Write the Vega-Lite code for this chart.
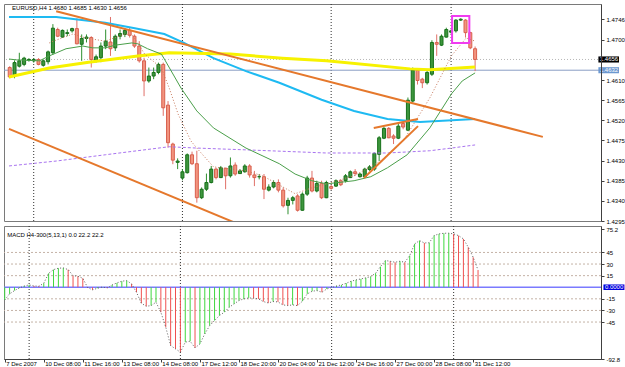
{
"$schema": "https://vega.github.io/schema/vega-lite/v6.json",
"padding": {"left": 2, "top": 3, "right": 0, "bottom": 0},
"background": "white",
"spacing": 0,
"config": {
  "font": "Liberation Sans",
  "view": {"stroke": "#7a7a7a", "strokeWidth": 1},
  "axis": {"labelFont": "Liberation Sans", "labelFontSize": 6, "labelColor": "#000000", "tickColor": "#404040", "domainColor": "#404040", "tickSize": 3, "grid": false}
},
"datasets": {
  "candles": [
    {"i":0,"o":1.4638,"h":1.4641,"l":1.4614,"c":1.4617},
    {"i":1,"o":1.4619,"h":1.4654,"l":1.4614,"c":1.4649},
    {"i":2,"o":1.4641,"h":1.4671,"l":1.4638,"c":1.4653},
    {"i":3,"o":1.4645,"h":1.4662,"l":1.4641,"c":1.4659},
    {"i":4,"o":1.4654,"h":1.4659,"l":1.4651,"c":1.4656},
    {"i":5,"o":1.4653,"h":1.4659,"l":1.4649,"c":1.4656},
    {"i":6,"o":1.4656,"h":1.4659,"l":1.4643,"c":1.4645},
    {"i":7,"o":1.4643,"h":1.4656,"l":1.4640,"c":1.4653},
    {"i":8,"o":1.4651,"h":1.4676,"l":1.4645,"c":1.4673},
    {"i":9,"o":1.4671,"h":1.4735,"l":1.4667,"c":1.4726},
    {"i":10,"o":1.4723,"h":1.4727,"l":1.4706,"c":1.4708},
    {"i":11,"o":1.4706,"h":1.4723,"l":1.4705,"c":1.4721},
    {"i":12,"o":1.4714,"h":1.4723,"l":1.4708,"c":1.4716},
    {"i":13,"o":1.4720,"h":1.4727,"l":1.4716,"c":1.4725},
    {"i":14,"o":1.4725,"h":1.4748,"l":1.4690,"c":1.4691},
    {"i":15,"o":1.4690,"h":1.4712,"l":1.4653,"c":1.4703},
    {"i":16,"o":1.4703,"h":1.4712,"l":1.4694,"c":1.4706},
    {"i":17,"o":1.4705,"h":1.4708,"l":1.4638,"c":1.4656},
    {"i":18,"o":1.4654,"h":1.4667,"l":1.4649,"c":1.4662},
    {"i":19,"o":1.4660,"h":1.4694,"l":1.4650,"c":1.4686},
    {"i":20,"o":1.4686,"h":1.4723,"l":1.4679,"c":1.4697},
    {"i":21,"o":1.4695,"h":1.4751,"l":1.4664,"c":1.4680},
    {"i":22,"o":1.4682,"h":1.4712,"l":1.4675,"c":1.4708},
    {"i":23,"o":1.4708,"h":1.4723,"l":1.4701,"c":1.4714},
    {"i":24,"o":1.4712,"h":1.4726,"l":1.4706,"c":1.4721},
    {"i":25,"o":1.4721,"h":1.4727,"l":1.4705,"c":1.4710},
    {"i":26,"o":1.4708,"h":1.4712,"l":1.4682,"c":1.4686},
    {"i":27,"o":1.4686,"h":1.4697,"l":1.4649,"c":1.4653},
    {"i":28,"o":1.4653,"h":1.4660,"l":1.4574,"c":1.4608},
    {"i":29,"o":1.4608,"h":1.4638,"l":1.4604,"c":1.4619},
    {"i":30,"o":1.4619,"h":1.4638,"l":1.4612,"c":1.4627},
    {"i":31,"o":1.4627,"h":1.4649,"l":1.4623,"c":1.4645},
    {"i":32,"o":1.4645,"h":1.4649,"l":1.4530,"c":1.4548},
    {"i":33,"o":1.4554,"h":1.4563,"l":1.4459,"c":1.4470},
    {"i":34,"o":1.4467,"h":1.4470,"l":1.4422,"c":1.4431},
    {"i":35,"o":1.4426,"h":1.4435,"l":1.4411,"c":1.4429},
    {"i":36,"o":1.4391,"h":1.4411,"l":1.4386,"c":1.4405},
    {"i":37,"o":1.4403,"h":1.4446,"l":1.4401,"c":1.4443},
    {"i":38,"o":1.4443,"h":1.4450,"l":1.4420,"c":1.4423},
    {"i":39,"o":1.4423,"h":1.4452,"l":1.4336,"c":1.4347},
    {"i":40,"o":1.4347,"h":1.4370,"l":1.4344,"c":1.4366},
    {"i":41,"o":1.4366,"h":1.4401,"l":1.4362,"c":1.4381},
    {"i":42,"o":1.4381,"h":1.4418,"l":1.4379,"c":1.4411},
    {"i":43,"o":1.4411,"h":1.4414,"l":1.4388,"c":1.4392},
    {"i":44,"o":1.4392,"h":1.4418,"l":1.4391,"c":1.4414},
    {"i":45,"o":1.4413,"h":1.4414,"l":1.4366,"c":1.4396},
    {"i":46,"o":1.4396,"h":1.4437,"l":1.4392,"c":1.4418},
    {"i":47,"o":1.4420,"h":1.4426,"l":1.4396,"c":1.4400},
    {"i":48,"o":1.4401,"h":1.4411,"l":1.4400,"c":1.4407},
    {"i":49,"o":1.4405,"h":1.4422,"l":1.4403,"c":1.4418},
    {"i":50,"o":1.4418,"h":1.4422,"l":1.4392,"c":1.4398},
    {"i":51,"o":1.4398,"h":1.4407,"l":1.4373,"c":1.4392},
    {"i":52,"o":1.4394,"h":1.4400,"l":1.4388,"c":1.4394},
    {"i":53,"o":1.4394,"h":1.4400,"l":1.4344,"c":1.4366},
    {"i":54,"o":1.4364,"h":1.4377,"l":1.4361,"c":1.4371},
    {"i":55,"o":1.4371,"h":1.4386,"l":1.4368,"c":1.4381},
    {"i":56,"o":1.4381,"h":1.4388,"l":1.4359,"c":1.4364},
    {"i":57,"o":1.4364,"h":1.4370,"l":1.4325,"c":1.4329},
    {"i":58,"o":1.4330,"h":1.4347,"l":1.4310,"c":1.4341},
    {"i":59,"o":1.4341,"h":1.4351,"l":1.4332,"c":1.4347},
    {"i":60,"o":1.4351,"h":1.4355,"l":1.4316,"c":1.4319},
    {"i":61,"o":1.4319,"h":1.4359,"l":1.4318,"c":1.4355},
    {"i":62,"o":1.4355,"h":1.4396,"l":1.4351,"c":1.4391},
    {"i":63,"o":1.4391,"h":1.4407,"l":1.4359,"c":1.4362},
    {"i":64,"o":1.4362,"h":1.4385,"l":1.4359,"c":1.4379},
    {"i":65,"o":1.4379,"h":1.4385,"l":1.4344,"c":1.4347},
    {"i":66,"o":1.4347,"h":1.4385,"l":1.4346,"c":1.4381},
    {"i":67,"o":1.4372,"h":1.4376,"l":1.4365,"c":1.4368},
    {"i":68,"o":1.4373,"h":1.4388,"l":1.4371,"c":1.4385},
    {"i":69,"o":1.4385,"h":1.4388,"l":1.4373,"c":1.4376},
    {"i":70,"o":1.4385,"h":1.4400,"l":1.4381,"c":1.4396},
    {"i":71,"o":1.4392,"h":1.4408,"l":1.4391,"c":1.4405},
    {"i":72,"o":1.4405,"h":1.4411,"l":1.4396,"c":1.4401},
    {"i":73,"o":1.4394,"h":1.4403,"l":1.4392,"c":1.4400},
    {"i":74,"o":1.4394,"h":1.4414,"l":1.4392,"c":1.4411},
    {"i":75,"o":1.4410,"h":1.4420,"l":1.4407,"c":1.4416},
    {"i":76,"o":1.4411,"h":1.4448,"l":1.4407,"c":1.4446},
    {"i":77,"o":1.4444,"h":1.4485,"l":1.4429,"c":1.4481},
    {"i":78,"o":1.4480,"h":1.4505,"l":1.4478,"c":1.4502},
    {"i":79,"o":1.4502,"h":1.4505,"l":1.4480,"c":1.4481},
    {"i":80,"o":1.4485,"h":1.4489,"l":1.4467,"c":1.4480},
    {"i":81,"o":1.4480,"h":1.4515,"l":1.4478,"c":1.4507},
    {"i":82,"o":1.4513,"h":1.4517,"l":1.4500,"c":1.4505},
    {"i":83,"o":1.4498,"h":1.4571,"l":1.4496,"c":1.4565},
    {"i":84,"o":1.4563,"h":1.4638,"l":1.4560,"c":1.4632},
    {"i":85,"o":1.4632,"h":1.4634,"l":1.4600,"c":1.4609},
    {"i":86,"o":1.4612,"h":1.4615,"l":1.4592,"c":1.4604},
    {"i":87,"o":1.4604,"h":1.4634,"l":1.4600,"c":1.4627},
    {"i":88,"o":1.4623,"h":1.4699,"l":1.4619,"c":1.4694},
    {"i":89,"o":1.4694,"h":1.4712,"l":1.4664,"c":1.4690},
    {"i":90,"o":1.4688,"h":1.4712,"l":1.4686,"c":1.4708},
    {"i":91,"o":1.4706,"h":1.4727,"l":1.4705,"c":1.4723},
    {"i":92,"o":1.4717,"h":1.4723,"l":1.4714,"c":1.4720},
    {"i":93,"o":1.4720,"h":1.4746,"l":1.4716,"c":1.4744},
    {"i":94,"o":1.4744,"h":1.4748,"l":1.4742,"c":1.4746},
    {"i":95,"o":1.4744,"h":1.4746,"l":1.4705,"c":1.4716},
    {"i":96,"o":1.4716,"h":1.4718,"l":1.4679,"c":1.4682},
    {"i":97,"o":1.4680,"h":1.4685,"l":1.4630,"c":1.4656}
  ],
  "ma": [
    {"s":"yellow","i":-0.15,"p":1.4617},{"s":"yellow","i":8.25,"p":1.4637},{"s":"yellow","i":16.45,"p":1.4650},{"s":"yellow","i":26.69,"p":1.4664},{"s":"yellow","i":33.25,"p":1.4671},{"s":"yellow","i":45.96,"p":1.4668},{"s":"yellow","i":56.82,"p":1.4659},{"s":"yellow","i":66.03,"p":1.4653},{"s":"yellow","i":83.46,"p":1.4635},{"s":"yellow","i":87.56,"p":1.4633},{"s":"yellow","i":97,"p":1.4639},
    {"s":"cyan","i":-0.15,"p":1.4751},{"s":"cyan","i":9.69,"p":1.4751},{"s":"cyan","i":19.93,"p":1.4738},{"s":"cyan","i":26.08,"p":1.4726},{"s":"cyan","i":32.23,"p":1.4713},{"s":"cyan","i":36.33,"p":1.4693},{"s":"cyan","i":42.47,"p":1.4659},{"s":"cyan","i":49.24,"p":1.4630},{"s":"cyan","i":56.2,"p":1.4604},{"s":"cyan","i":65.01,"p":1.4566},{"s":"cyan","i":71.78,"p":1.4541},{"s":"cyan","i":78.74,"p":1.4523},{"s":"cyan","i":85.51,"p":1.4516},{"s":"cyan","i":97,"p":1.4523},
    {"s":"green","i":-0.15,"p":1.4657},{"s":"green","i":1.49,"p":1.4655},{"s":"green","i":6.2,"p":1.4653},{"s":"green","i":8.25,"p":1.4664},{"s":"green","i":11.74,"p":1.4680},{"s":"green","i":15.22,"p":1.4686},{"s":"green","i":17.27,"p":1.4682},{"s":"green","i":19.93,"p":1.4682},{"s":"green","i":21.98,"p":1.4688},{"s":"green","i":25.46,"p":1.4693},{"s":"green","i":26.69,"p":1.4691},{"s":"green","i":28.74,"p":1.4680},{"s":"green","i":31.61,"p":1.4668},{"s":"green","i":32.23,"p":1.4657},{"s":"green","i":35.71,"p":1.4592},{"s":"green","i":38.99,"p":1.4541},{"s":"green","i":42.47,"p":1.4503},{"s":"green","i":49.24,"p":1.4458},{"s":"green","i":56.2,"p":1.4423},{"s":"green","i":59.48,"p":1.4400},{"s":"green","i":62.96,"p":1.4385},{"s":"green","i":66.03,"p":1.4378},{"s":"green","i":71.78,"p":1.4385},{"s":"green","i":75.26,"p":1.4394},{"s":"green","i":78.74,"p":1.4414},{"s":"green","i":82.84,"p":1.4443},{"s":"green","i":87.56,"p":1.4503},{"s":"green","i":92.06,"p":1.4579},{"s":"green","i":94.32,"p":1.4608},{"s":"green","i":97,"p":1.4626}
  ],
  "fast": [
    {"i":8.25,"p":1.4693},{"i":9.07,"p":1.4697},{"i":13.17,"p":1.4713},{"i":15.83,"p":1.4704},{"i":19.93,"p":1.4697},{"i":24.03,"p":1.4713},{"i":25.67,"p":1.4709},{"i":28.13,"p":1.4668},{"i":31.61,"p":1.4637},{"i":33.25,"p":1.4592},{"i":35.1,"p":1.4534},{"i":37.76,"p":1.4474},{"i":38.99,"p":1.4458},{"i":42.47,"p":1.4416},{"i":49.24,"p":1.4407},{"i":52.72,"p":1.4396},{"i":59.48,"p":1.4356},{"i":62.96,"p":1.4369},{"i":66.03,"p":1.4378},{"i":71.78,"p":1.4396},{"i":77.31,"p":1.4429},{"i":82.02,"p":1.4474},{"i":87.56,"p":1.4570},{"i":92.06,"p":1.4664},{"i":95.14,"p":1.4704},{"i":97,"p":1.4697}
  ],
  "slow": [
    {"i":-0.15,"p":1.4418},{"i":9.69,"p":1.4429},{"i":19.93,"p":1.4443},{"i":33.25,"p":1.4461},{"i":38.99,"p":1.4458},{"i":49.24,"p":1.4454},{"i":66.03,"p":1.4447},{"i":78.74,"p":1.4447},{"i":87.56,"p":1.4452},{"i":92.06,"p":1.4458},{"i":97,"p":1.4465}
  ],
  "trend": [
    {"i":9.69,"p":1.4764,"i2":111.12,"p2":1.4483},
    {"i":-0.15,"p":1.4501,"i2":46.98,"p2":1.4291},
    {"i":73.83,"p":1.4391,"i2":85.1,"p2":1.4507},
    {"i":75.88,"p":1.4503,"i2":85.1,"p2":1.4523}
  ],
  "weeks": [{"i":5},{"i":36},{"i":67},{"i":92}],
  "macd": [
    {"i":0,"v":-16.4,"d":"u"},{"i":1,"v":-8.6,"d":"u"},{"i":2,"v":-4.3,"d":"u"},{"i":3,"v":-1.0,"d":"u"},{"i":4,"v":1.7,"d":"u"},{"i":5,"v":3.0,"d":"u"},{"i":6,"v":1.7,"d":"d"},{"i":7,"v":1.3,"d":"d"},{"i":8,"v":5.2,"d":"u"},{"i":9,"v":18.0,"d":"u"},
    {"i":10,"v":22.8,"d":"u"},{"i":11,"v":24.6,"d":"u"},{"i":12,"v":25.0,"d":"u"},{"i":13,"v":22.8,"d":"d"},{"i":14,"v":15.0,"d":"d"},{"i":15,"v":14.2,"d":"d"},{"i":16,"v":11.6,"d":"d"},{"i":17,"v":-0.5,"d":"d"},{"i":18,"v":-3.4,"d":"d"},{"i":19,"v":-1.3,"d":"u"},
    {"i":20,"v":0.3,"d":"u"},{"i":21,"v":-0.9,"d":"d"},{"i":22,"v":3.0,"d":"u"},{"i":23,"v":5.6,"d":"u"},{"i":24,"v":7.8,"d":"u"},{"i":25,"v":8.6,"d":"u"},{"i":26,"v":4.3,"d":"d"},{"i":27,"v":-6.5,"d":"d"},{"i":28,"v":-20.7,"d":"d"},{"i":29,"v":-24.6,"d":"d"},
    {"i":30,"v":-23.7,"d":"u"},{"i":31,"v":-19.4,"d":"u"},{"i":32,"v":-32.3,"d":"d"},{"i":33,"v":-51.7,"d":"d"},{"i":34,"v":-75.4,"d":"d"},{"i":35,"v":-79.7,"d":"d"},{"i":36,"v":-84.0,"d":"d"},{"i":37,"v":-71.0,"d":"u"},{"i":38,"v":-69.8,"d":"u"},{"i":39,"v":-78.4,"d":"d"},
    {"i":40,"v":-73.3,"d":"u"},{"i":41,"v":-60.3,"d":"u"},{"i":42,"v":-49.6,"d":"u"},{"i":43,"v":-43.1,"d":"u"},{"i":44,"v":-36.6,"d":"u"},{"i":45,"v":-32.3,"d":"u"},{"i":46,"v":-25.9,"d":"u"},{"i":47,"v":-21.6,"d":"u"},{"i":48,"v":-17.2,"d":"u"},{"i":49,"v":-15.1,"d":"u"},
    {"i":50,"v":-13.8,"d":"u"},{"i":51,"v":-14.2,"d":"d"},{"i":52,"v":-15.1,"d":"d"},{"i":53,"v":-18.5,"d":"d"},{"i":54,"v":-20.3,"d":"d"},{"i":55,"v":-18.5,"d":"u"},{"i":56,"v":-19.0,"d":"d"},{"i":57,"v":-22.8,"d":"d"},{"i":58,"v":-23.7,"d":"d"},{"i":59,"v":-22.8,"d":"u"},
    {"i":60,"v":-23.7,"d":"d"},{"i":61,"v":-18.1,"d":"u"},{"i":62,"v":-8.6,"d":"u"},{"i":63,"v":-5.2,"d":"u"},{"i":64,"v":-4.3,"d":"u"},{"i":65,"v":-6.5,"d":"d"},{"i":66,"v":-2.2,"d":"u"},{"i":67,"v":-0.5,"d":"u"},{"i":68,"v":1.7,"d":"u"},{"i":69,"v":3.0,"d":"u"},
    {"i":70,"v":5.2,"d":"u"},{"i":71,"v":7.8,"d":"u"},{"i":72,"v":9.5,"d":"u"},{"i":73,"v":10.8,"d":"u"},{"i":74,"v":12.1,"d":"u"},{"i":75,"v":13.8,"d":"u"},{"i":76,"v":18.1,"d":"u"},{"i":77,"v":26.7,"d":"u"},{"i":78,"v":34.5,"d":"u"},{"i":79,"v":33.6,"d":"d"},
    {"i":80,"v":32.3,"d":"d"},{"i":81,"v":33.6,"d":"u"},{"i":82,"v":32.3,"d":"d"},{"i":83,"v":41.0,"d":"u"},{"i":84,"v":56.0,"d":"u"},{"i":85,"v":60.3,"d":"u"},{"i":86,"v":57.3,"d":"d"},{"i":87,"v":57.5,"d":"u"},{"i":88,"v":66.8,"d":"u"},{"i":89,"v":69.0,"d":"u"},
    {"i":90,"v":69.8,"d":"u"},{"i":91,"v":69.9,"d":"u"},{"i":92,"v":69.0,"d":"d"},{"i":93,"v":66.8,"d":"d"},{"i":94,"v":62.5,"d":"d"},{"i":95,"v":51.7,"d":"d"},{"i":96,"v":38.8,"d":"d"},{"i":97,"v":22.2,"d":"d"}
  ]
},
"vconcat": [
  {
    "width": 597,
    "height": 217,
    "encoding": {
      "x": {"field": "i", "type": "quantitative", "scale": {"domain": [-0.15, 122.2], "nice": false, "zero": false}, "axis": null},
      "y": {"field": "p", "type": "quantitative", "scale": {"domain": [1.4295, 1.4780], "nice": false, "zero": false},
            "axis": {"orient": "right", "title": null, "values": [1.4746, 1.47, 1.461, 1.4565, 1.452, 1.4475, 1.443, 1.4385, 1.434, 1.4295], "format": ".4f", "labelPadding": 2, "zindex": 1}}
    },
    "layer": [
      {
        "data": {"name": "candles"},
        "mark": {"type": "rule", "opacity": 0},
        "encoding": {"y": {"field": "l", "type": "quantitative"}}
      },
      {
        "data": {"name": "weeks"},
        "mark": {"type": "rule", "color": "#303030", "strokeDash": [1, 2], "strokeWidth": 1},
        "encoding": {"y": null}
      },
      {
        "data": {"values": [{"p": 1.4656}]},
        "mark": {"type": "rule", "color": "#b8b8b8", "strokeDash": [1, 2], "strokeWidth": 1},
        "encoding": {"x": null}
      },
      {
        "data": {"values": [{"p": 1.4632}]},
        "mark": {"type": "rule", "color": "#8a9ec4", "strokeWidth": 1},
        "encoding": {"x": null}
      },
      {
        "data": {"name": "candles"},
        "mark": {"type": "rule", "strokeWidth": 1, "clip": true},
        "encoding": {
          "y": {"field": "l", "type": "quantitative"},
          "y2": {"field": "h"},
          "color": {"condition": {"test": "datum.c >= datum.o", "value": "#2f8f2f"}, "value": "#e07068"}
        }
      },
      {
        "data": {"name": "candles"},
        "mark": {"type": "bar", "width": 3, "strokeWidth": 1, "clip": true},
        "encoding": {
          "y": {"field": "o", "type": "quantitative"},
          "y2": {"field": "c"},
          "fill": {"condition": {"test": "datum.c >= datum.o", "value": "#3d963d"}, "value": "#f2947f"},
          "stroke": {"condition": {"test": "datum.c >= datum.o", "value": "#17701a"}, "value": "#d8604e"}
        }
      },
      {
        "data": {"name": "slow"},
        "mark": {"type": "line", "color": "#a974f0", "strokeWidth": 1, "strokeDash": [3, 2], "clip": true}
      },
      {
        "data": {"name": "ma"},
        "transform": [{"filter": "datum.s == 'cyan'"}],
        "mark": {"type": "line", "color": "#1ebaf2", "strokeWidth": 2, "clip": true}
      },
      {
        "data": {"name": "ma"},
        "transform": [{"filter": "datum.s == 'yellow'"}],
        "mark": {"type": "line", "color": "#f7f200", "strokeWidth": 3, "clip": true}
      },
      {
        "data": {"name": "ma"},
        "transform": [{"filter": "datum.s == 'green'"}],
        "mark": {"type": "line", "color": "#4a9f4a", "strokeWidth": 1, "clip": true}
      },
      {
        "data": {"name": "fast"},
        "mark": {"type": "line", "color": "#c8785a", "strokeWidth": 1, "strokeDash": [1, 2], "clip": true}
      },
      {
        "data": {"name": "trend"},
        "mark": {"type": "rule", "color": "#e5782c", "strokeWidth": 2, "clip": true},
        "encoding": {"x2": {"field": "i2"}, "y2": {"field": "p2"}}
      },
      {
        "data": {"values": [{"i": 92.2, "i2": 95.8, "p": 1.4753, "p2": 1.4693}]},
        "mark": {"type": "rect", "fill": null, "fillOpacity": 0, "stroke": "#f03cf0", "strokeWidth": 2},
        "encoding": {"x2": {"field": "i2"}, "y2": {"field": "p2"}}
      },
      {
        "data": {"values": [{"i": 0.5, "p": 1.4771, "t": "EURUSD,H4  1.4680 1.4685 1.4630 1.4656"}]},
        "mark": {"type": "text", "align": "left", "baseline": "middle", "fontSize": 6, "color": "#000000"},
        "encoding": {"text": {"field": "t"}}
      },
      {
        "data": {"values": [{"i": 122.7, "i2": 127.0, "p": 1.46628, "p2": 1.46492, "k": "black"}, {"i": 122.7, "i2": 127.0, "p": 1.46388, "p2": 1.46252, "k": "blue"}]},
        "mark": {"type": "rect"},
        "encoding": {
          "x2": {"field": "i2"},
          "y2": {"field": "p2"},
          "fill": {"condition": {"test": "datum.k == 'black'", "value": "#000000"}, "value": "#6b98d0"}
        }
      },
      {
        "data": {"values": [{"i": 123.0, "p": 1.4656, "t": "1.4656"}, {"i": 123.0, "p": 1.4632, "t": "1.4632"}]},
        "mark": {"type": "text", "align": "left", "baseline": "middle", "fontSize": 6, "color": "#ffffff"},
        "encoding": {"text": {"field": "t"}}
      }
    ]
  },
  {
    "width": 597,
    "height": 133,
    "encoding": {
      "x": {"field": "i", "type": "quantitative", "scale": {"domain": [-0.15, 122.2], "nice": false, "zero": false},
            "axis": {"orient": "bottom", "title": null, "values": [0, 8, 16, 24, 32, 40, 48, 56, 64, 72, 80, 88, 96],
                     "labelExpr": "['7 Dec 2007','10 Dec 08:00','11 Dec 16:00','13 Dec 08:00','14 Dec 08:00','17 Dec 12:00','18 Dec 20:00','20 Dec 04:00','21 Dec 12:00','24 Dec 16:00','27 Dec 00:00','28 Dec 08:00','31 Dec 12:00'][round(datum.value / 8)]",
                     "labelAlign": "left", "labelBaseline": "middle", "labelPadding": 1.5, "labelOffset": 1, "tickSize": 3, "zindex": 1}},
      "y": {"field": "v", "type": "quantitative", "scale": {"domain": [-92.8, 79.2], "nice": false, "zero": false},
            "axis": {"orient": "right", "title": null, "values": [75.2, 45, 30, 15, -15, -30, -45, -92.8], "labelExpr": "toString(datum.value)", "labelPadding": 2, "zindex": 1}}
    },
    "layer": [
      {
        "data": {"name": "macd"},
        "mark": {"type": "line", "opacity": 0}
      },
      {
        "data": {"name": "weeks"},
        "mark": {"type": "rule", "color": "#303030", "strokeDash": [1, 2], "strokeWidth": 1},
        "encoding": {"y": null}
      },
      {
        "data": {"values": [{"v": 45}, {"v": 30}, {"v": 15}, {"v": -15}, {"v": -30}, {"v": -45}]},
        "mark": {"type": "rule", "color": "#c4b2a6", "strokeDash": [2, 2], "strokeWidth": 1},
        "encoding": {"x": null}
      },
      {
        "data": {"values": [{"v": 0}]},
        "mark": {"type": "rule", "color": "#7a7aff", "strokeWidth": 1.5},
        "encoding": {"x": null}
      },
      {
        "data": {"name": "macd"},
        "mark": {"type": "rule", "strokeWidth": 1},
        "encoding": {
          "y2": {"datum": 0},
          "color": {"condition": {"test": "datum.d == 'u'", "value": "#3fd83f"}, "value": "#f05050"}
        }
      },
      {
        "data": {"name": "macd"},
        "mark": {"type": "line", "color": "#606060", "strokeWidth": 1, "strokeDash": [1, 2]}
      },
      {
        "data": {"values": [{"i": 0.5, "v": 67.5, "t": "MACD H4-300(5,13,1) 0.0 22.2 22.2"}]},
        "mark": {"type": "text", "align": "left", "baseline": "middle", "fontSize": 6, "color": "#000000"},
        "encoding": {"text": {"field": "t"}}
      },
      {
        "data": {"values": [{"i": 122.7, "i2": 127.0, "v": 3.6, "v2": -3.6}]},
        "mark": {"type": "rect", "color": "#0000dd"},
        "encoding": {"x2": {"field": "i2"}, "y2": {"field": "v2"}}
      },
      {
        "data": {"values": [{"i": 123.0, "v": 0, "t": "0.0000"}]},
        "mark": {"type": "text", "align": "left", "baseline": "middle", "fontSize": 6, "color": "#ffffff"},
        "encoding": {"text": {"field": "t"}}
      }
    ]
  }
]
}
